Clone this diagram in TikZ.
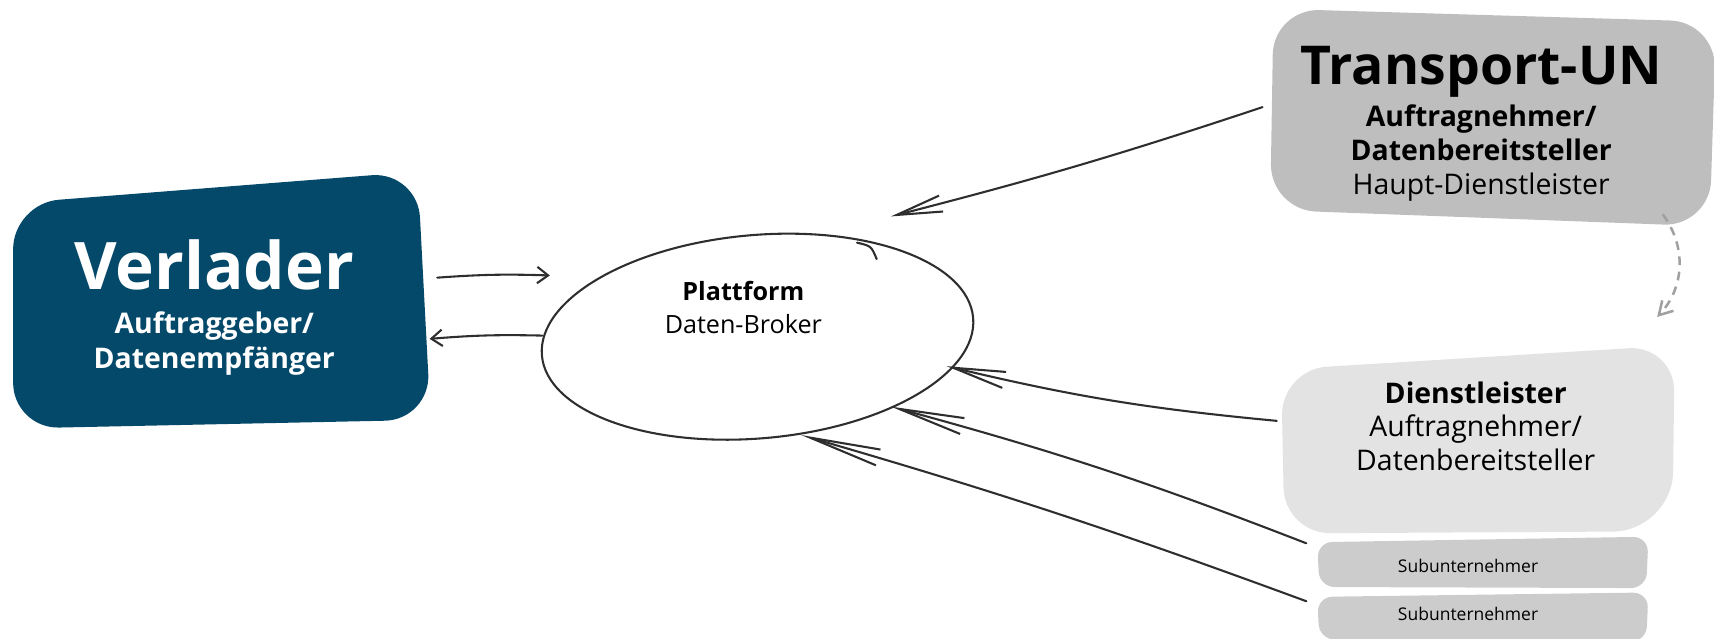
\documentclass[tikz,border=0pt]{standalone}
\usepackage{fontspec}
\setmainfont{Open Sans}
\usetikzlibrary{arrows.meta,shapes.geometric,positioning}
\definecolor{verladerblue}{HTML}{04496A}
\definecolor{tungray}{HTML}{BEBEBE}
\definecolor{dienstgray}{HTML}{E3E3E3}
\definecolor{subgray}{HTML}{CCCCCC}
\definecolor{pencil}{HTML}{2E2E2E}
\definecolor{dashgray}{HTML}{A0A0A0}
\tikzstyle{line} = [draw=pencil, line width=1.9pt, line cap=round]
\tikzstyle{blob} = [rounded corners=42pt]
\tikzstyle{label} = [align=center, inner sep=0pt]
\tikzstyle{barb} = [-{Straight Barb[length=#1, width=15pt]}]

\begin{document}
\begin{tikzpicture}[x=1pt, y=-1pt]
	\useasboundingbox (0,0) rectangle (1568,584);
	% blobs
	\fill [verladerblue, blob] (12,186) -- (382,157) -- (394,384) -- (12,392) -- cycle;
	\fill [tungray, blob] (1165,8) -- (1570,20) -- (1564,207) -- (1162,192) -- cycle;
	\fill [dienstgray, blob] (1172,338) -- (1532,316) [rounded corners=55pt] -- (1530,486) [rounded corners=42pt] -- (1175,488) -- cycle;
	\fill [subgray, rounded corners=14pt] (1205,496) -- (1508,491) -- (1506,538) -- (1207,537) -- cycle;
	\fill [subgray, rounded corners=14pt] (1205,546) -- (1508,542) -- (1506,587) -- (1207,585) -- cycle;
	
	\node [label, text=white, font=\bfseries\fontsize{26}{32}\selectfont] (verlader) at (196,281) {{\fontsize{60}{60}\selectfont Verlader}\\[8pt] Auftraggeber/\\ Datenempfänger};
	\node [label, font=\fontsize{26}{31}\selectfont] (tun) at (1355,113) {{\bfseries\fontsize{49}{49}\selectfont Transport-UN}\\[6pt] \textbf{Auftragnehmer/}\\ \textbf{Datenbereitsteller}\\ Haupt-Dienstleister};
	\node [label, font=\fontsize{26}{31}\selectfont] (dienst) at (1350,390) {\textbf{Dienstleister}\\ Auftragnehmer/\\ Datenbereitsteller};
	\node [label, font=\fontsize{16}{16}\selectfont] (sub1) at (1343,518) {Subunternehmer};
	\node [label, font=\fontsize{16}{16}\selectfont] (sub2) at (1343,562) {Subunternehmer};
	
	% plattform
	\node [draw=pencil, line width=1.9pt, ellipse, minimum width=396pt, minimum height=186pt, rotate=5] (plat) at (693,308) {};
	\node [label, font=\fontsize{23}{30}\selectfont] (platlabel) at (680,281) {\textbf{Plattform}\\ Daten-Broker};
	\coordinate (hookA) at (784,222);
	\coordinate (hookB) at (802,237);
	\draw [line] (hookA) .. controls (797,225) .. (hookB);
	
	% arrow ends
	\coordinate (verout) at (400,254);
	\coordinate (platin) at (503,252);
	\coordinate (platout) at (496,307);
	\coordinate (verin) at (393,310);
	\coordinate (tunout) at (1155,98);
	\coordinate (tuntip) at (815,198);
	\coordinate (dienstout) at (1168,385);
	\coordinate (diensttip) at (866,335);
	\coordinate (sub1out) at (1195,497);
	\coordinate (sub1tip) at (815,372);
	\coordinate (sub2out) at (1195,550);
	\coordinate (sub2tip) at (733,398);
	\coordinate (tunfoot) at (1521,196);
	\coordinate (dienstTop) at (1516,290);
	
	\path [line, barb=10pt] (verout) to[bend left=3] (platin);
	\path [line, barb=10pt] (platout) to[bend right=3] (verin);
	\path [line, barb=42pt] (tunout) to[bend left=2] (tuntip);
	\path [line, barb=48pt] (dienstout) to[bend left=4] (diensttip);
	\path [line, barb=60pt] (sub1out) to[bend right=3] (sub1tip);
	\path [line, barb=65pt] (sub2out) to[bend right=2] (sub2tip);
	\draw [dashgray, line width=2.3pt, dash pattern=on 8pt off 6pt, -{Straight Barb[length=12pt, width=14pt]}] (tunfoot) to[bend left=40] (dienstTop);
\end{tikzpicture}
\end{document}
